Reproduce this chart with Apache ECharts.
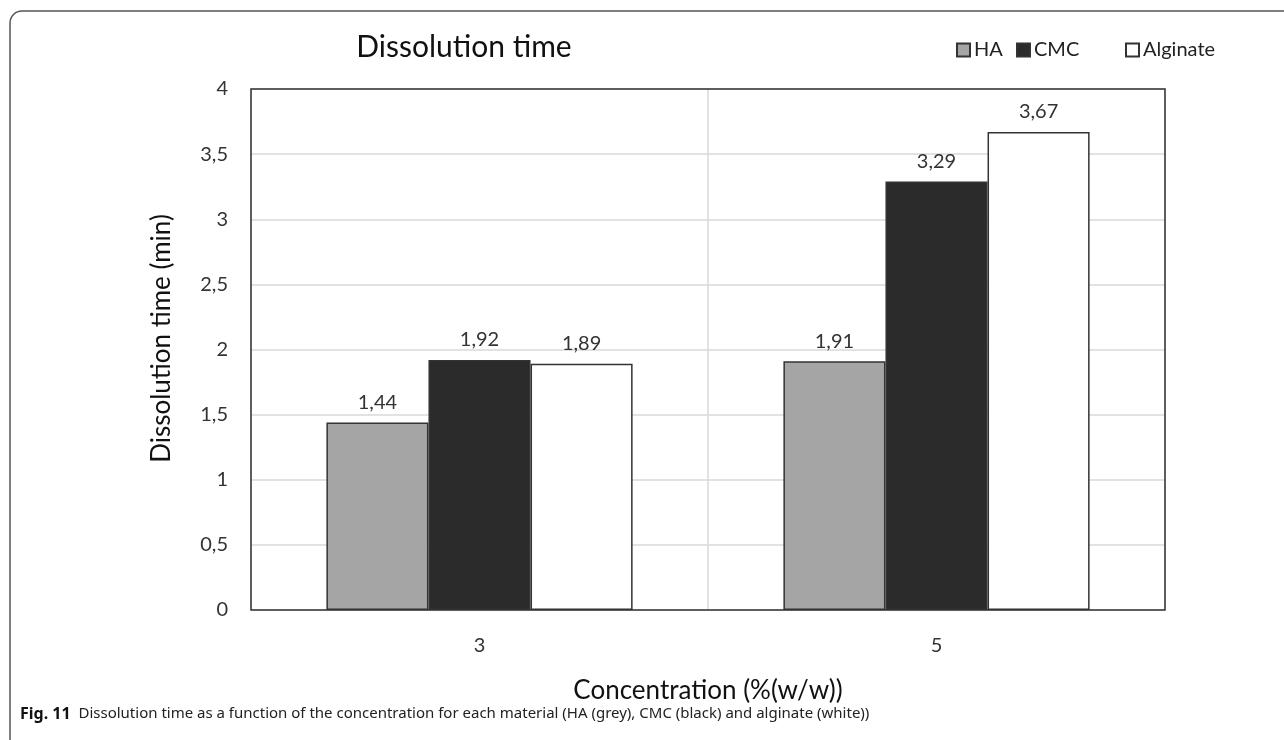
<!DOCTYPE html>
<html lang="en">
<head>
    <meta charset="UTF-8">
    <title>Dissolution time</title>
    <script src="https://cdn.jsdelivr.net/npm/echarts@6.0.0/dist/echarts.min.js"></script>
</head>
<body style="margin:0;background:#fff">
<div id="main" style="width: 1284px;height:740px;"></div>
<script type="text/javascript">
    // data
    var categories = ['3', '5'];
    var haValues = [1.44, 1.91];
    var cmcValues = [1.92, 3.29];
    var alginateValues = [1.89, 3.67];
    var yTicks = [0, 0.5, 1, 1.5, 2, 2.5, 3, 3.5, 4];

    var myChart = echarts.init(document.getElementById('main'));
    var font = 'Lato, "Noto Sans", sans-serif';
    var comma = function (v) { return String(v).replace('.', ','); };

    function barSeries(name, color, data) {
        return {
            name: name,
            type: 'bar',
            data: data,
            barGap: 0,
            barCategoryGap: '33%',
            itemStyle: {color: color, borderColor: '#333', borderWidth: 1.5},
            label: {
                show: true,
                position: 'top',
                distance: 10,
                color: '#333',
                fontSize: 20,
                fontFamily: font,
                formatter: function (p) { return comma(p.value); }
            }
        };
    }

    function legendAt(name, left) {
        return {
            data: [name],
            left: left,
            top: 35,
            icon: 'rect',
            itemWidth: 13,
            itemHeight: 13,
            itemGap: 0,
            textStyle: {fontSize: 20, color: '#222', fontFamily: font, padding: [0, 0, 0, -1]}
        };
    }

    option = {
        animation: false,
        title: {
            text: 'Dissolution time',
            left: 459,
            textAlign: 'center',
            top: 27,
            textStyle: {fontSize: 30, fontWeight: 'normal', color: '#111', fontFamily: font}
        },
        legend: [legendAt('HA', 951), legendAt('CMC', 1011), legendAt('Alginate', 1120)],
        grid: {
            left: 251, top: 89, width: 914, height: 521, z: 10,
            show: true, borderColor: '#333', borderWidth: 1.5
        },
        xAxis: {
            type: 'category',
            data: categories,
            name: 'Concentration (%(w/w))',
            nameLocation: 'middle',
            nameGap: 68,
            nameTextStyle: {fontSize: 26, color: '#111', fontFamily: font},
            axisLine: {show: false},
            axisTick: {show: false},
            axisLabel: {margin: 26, fontSize: 20, color: '#333', fontFamily: font},
            splitLine: {show: true, lineStyle: {color: '#d9d9d9', width: 1.5}}
        },
        yAxis: {
            type: 'value',
            min: yTicks[0],
            max: yTicks[yTicks.length - 1],
            interval: 0.5,
            name: 'Dissolution time (min)',
            nameLocation: 'middle',
            nameGap: 76,
            nameTextStyle: {fontSize: 26, color: '#111', fontFamily: font, padding: [0, 0, 0, 22]},
            axisLine: {show: false},
            axisTick: {show: false},
            axisLabel: {margin: 23, fontSize: 20, color: '#333', fontFamily: font, formatter: comma},
            splitLine: {lineStyle: {color: '#d9d9d9', width: 1.5}}
        },
        series: [
            barSeries('HA', '#a5a5a5', haValues),
            barSeries('CMC', '#2b2b2b', cmcValues),
            barSeries('Alginate', '#ffffff', alginateValues)
        ],
        graphic: [
            {
                type: 'rect',
                shape: {x: 10, y: 11, width: 1320, height: 760, r: 12},
                style: {fill: null, stroke: '#555', lineWidth: 1.5},
                z: -1
            },
            {
                type: 'text',
                left: 20,
                top: 706,
                style: {
                    text: '{b|Fig. 11}  Dissolution time as a function of the concentration for each material (HA (grey), CMC (black) and alginate (white))',
                    rich: {
                        b: {fontWeight: 'bold', fontSize: 16, fontFamily: '"Noto Sans", sans-serif', fill: '#111'}
                    },
                    font: '15px "Noto Sans", sans-serif',
                    fill: '#222'
                }
            }
        ]
    };

    myChart.setOption(option);
</script>
</body>
</html>
